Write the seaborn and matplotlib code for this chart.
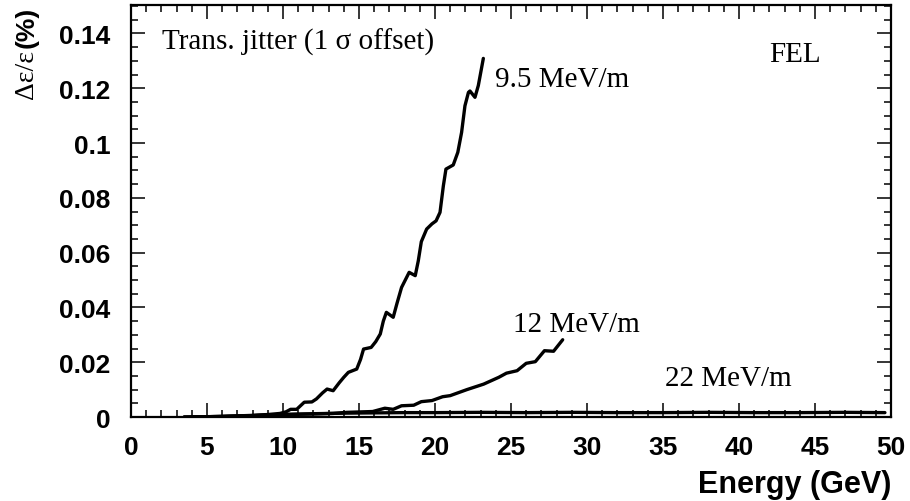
import numpy as np
import pandas as pd
import matplotlib
matplotlib.use("Agg")
import matplotlib.pyplot as plt
from matplotlib.ticker import MultipleLocator, FuncFormatter
import seaborn as sns

# Emittance growth from transverse jitter vs. beam energy, three gradients
energy_95 = [3.5, 5, 6, 7, 8, 9, 9.8, 10.2, 10.5, 10.9, 11.4, 11.9, 12.2, 12.6, 12.9,
             13.3, 13.7, 14.0, 14.3, 14.85, 15.1, 15.3, 15.8, 16.1, 16.4, 16.6, 16.8,
             17.25, 17.5, 17.8, 18.3, 18.7, 18.9, 19.1, 19.45, 19.8, 20.07, 20.33,
             20.55, 20.72, 21.2, 21.5, 21.75, 21.97, 22.2, 22.3, 22.63, 22.85, 23.18]
growth_95 = [0.0, 0.0001, 0.0002, 0.0004, 0.0006, 0.0009, 0.0013, 0.0019, 0.0028,
             0.0028, 0.0054, 0.0055, 0.0066, 0.0088, 0.0102, 0.0096, 0.0125, 0.0145,
             0.0163, 0.0175, 0.021, 0.0248, 0.0254, 0.0275, 0.0303, 0.035, 0.0382,
             0.0364, 0.0415, 0.0473, 0.0528, 0.0516, 0.057, 0.064, 0.0686, 0.0705,
             0.0716, 0.0747, 0.0844, 0.0905, 0.092, 0.0966, 0.1039, 0.1136, 0.1185,
             0.119, 0.1167, 0.121, 0.1309]

energy_12 = [3.5, 6, 8, 10, 12, 13.3, 14.2, 15.9, 16.7, 17.25, 17.8, 18.6, 19.1, 19.8,
             20.5, 21.0, 22.1, 23.2, 24.2, 24.7, 25.4, 26.0, 26.6, 27.2, 27.8, 28.4]
growth_12 = [0.0, 0.0002, 0.0005, 0.0009, 0.0011, 0.0013, 0.0017, 0.002, 0.0032,
             0.0028, 0.0041, 0.0043, 0.0056, 0.006, 0.0074, 0.0078, 0.01, 0.012,
             0.0145, 0.016, 0.0169, 0.0196, 0.0202, 0.0242, 0.024, 0.0282]

energy_22 = [4, 6, 8, 10, 12, 14, 16, 18, 20, 23, 26, 29, 32, 35, 38, 41, 44, 47, 49.6]
growth_22 = [0.0, 0.0002, 0.0005, 0.0009, 0.0012, 0.0014, 0.0015, 0.0016, 0.0016,
             0.0017, 0.0016, 0.0017, 0.0016, 0.0016, 0.0017, 0.0016, 0.0016, 0.0017,
             0.0016]

series = [("9.5 MeV/m", energy_95, growth_95),
          ("12 MeV/m", energy_12, growth_12),
          ("22 MeV/m", energy_22, growth_22)]

sns.set_style("ticks")
plt.rcParams["font.family"] = ["Liberation Sans", "DejaVu Sans"]
plt.rcParams.update({"text.color": "black", "axes.labelcolor": "black",
                     "xtick.color": "black", "ytick.color": "black",
                     "axes.edgecolor": "black"})

fig = plt.figure(figsize=(9.10, 5.02), dpi=100)
ax = fig.add_axes([131 / 910, 1 - 418 / 502, (891 - 131) / 910, (418 - 6) / 502])

for name, e, g in series:
    df = pd.DataFrame({"energy": e, "growth": g})
    sns.lineplot(data=df, x="energy", y="growth", ax=ax, color="black",
                 linewidth=2.4, sort=False, estimator=None)

ax.set_xlim(0, 50)
ax.set_ylim(0, 0.1504)
ax.xaxis.set_major_locator(MultipleLocator(5))
ax.xaxis.set_minor_locator(MultipleLocator(1))
ax.yaxis.set_major_locator(MultipleLocator(0.02))
ax.yaxis.set_minor_locator(MultipleLocator(0.005))
ax.yaxis.set_major_formatter(FuncFormatter(lambda v, p: f"{v:g}"))
ax.xaxis.set_major_formatter(FuncFormatter(lambda v, p: f"{v:g}"))

ax.tick_params(which="both", direction="in", top=True, right=True, width=1.1,
               color="black", labelcolor="black")
ax.tick_params(which="major", length=10)
ax.tick_params(which="minor", length=5)
ax.tick_params(axis="y", which="major", pad=15)
ax.tick_params(axis="x", which="major", pad=13)
for lab in ax.get_xticklabels() + ax.get_yticklabels():
    lab.set_fontweight("bold")
    lab.set_fontsize(19)

for s in ax.spines.values():
    s.set_linewidth(1.6)
    s.set_color("black")

ax.set_xlabel("Energy (GeV)", loc="right", fontsize=22, fontweight="bold",
              labelpad=7, color="black")
ax.set_ylabel("")

serif = ["Liberation Serif", "DejaVu Serif"]
fig.text(27 / 910, 1 - 7 / 502, "(%)", rotation=90, ha="center", va="top",
         fontsize=19, fontweight="bold", color="black")
fig.text(27 / 910, 1 - 50 / 502, "Δε/ε", rotation=90, ha="center", va="top",
         fontsize=20, family=serif, color="black")

ax.text(2.04, 0.137, "Trans. jitter (1 σ offset)", fontsize=21, family=serif,
        va="center", ha="left", color="black")
ax.text(42.0, 0.1325, "FEL", fontsize=21, family=serif, va="center", ha="left",
        color="black")
ax.text(23.95, 0.1234, "9.5 MeV/m", fontsize=21, family=serif, va="center",
        ha="left", color="black")
ax.text(25.1, 0.034, "12 MeV/m", fontsize=21, family=serif, va="center",
        ha="left", color="black")
ax.text(35.1, 0.0142, "22 MeV/m", fontsize=21, family=serif, va="center",
        ha="left", color="black")

fig.savefig("out.png", dpi=100)
